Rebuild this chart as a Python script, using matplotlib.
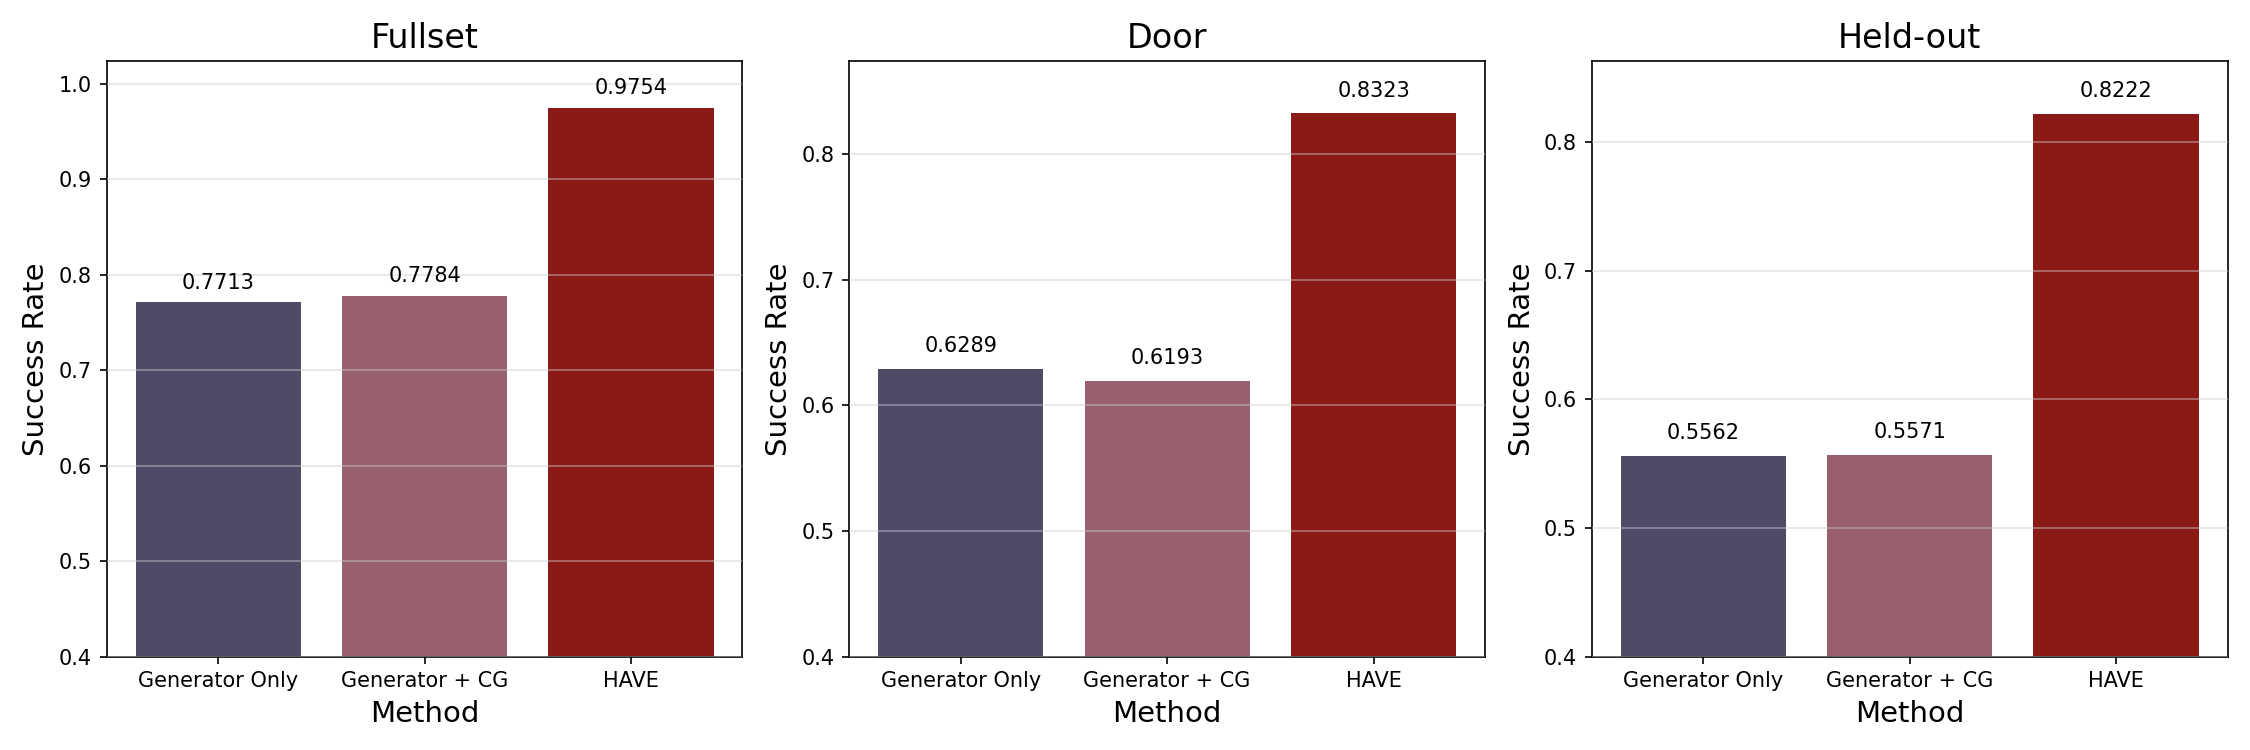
import matplotlib
matplotlib.use("Agg")
import matplotlib.pyplot as plt

methods = ["Generator Only", "Generator + CG", "HAVE"]
panels = ["Fullset", "Door", "Held-out"]
fullset = [0.7713, 0.7784, 0.9754]
door = [0.6289, 0.6193, 0.8323]
heldout = [0.5562, 0.5571, 0.8222]
colors = ["#4e4b67", "#98606e", "#8b1a16"]

data = [fullset, door, heldout]

fig, axes = plt.subplots(1, 3, figsize=(15, 5), dpi=150)
for ax, title, vals in zip(axes, panels, data):
    x = list(range(len(methods)))
    ax.bar(x, vals, width=0.8, color=colors)
    for xi, v in zip(x, vals):
        ax.text(xi, v + 0.01, f"{v:.4f}", ha="center", va="bottom", fontsize=10)
    ax.set_xticks(x)
    ax.set_xticklabels(methods, fontsize=10)
    ax.set_ylim(0.4, max(vals) * 1.05)
    ax.set_title(title, fontsize=16)
    ax.set_xlabel("Method", fontsize=14)
    ax.set_ylabel("Success Rate", fontsize=14)
    ax.tick_params(axis="y", labelsize=10)
    ax.yaxis.grid(True, color="#cccccc", alpha=0.5, linewidth=0.8)
    ax.set_axisbelow(False)

plt.tight_layout()
plt.savefig("out.png", dpi=150)
